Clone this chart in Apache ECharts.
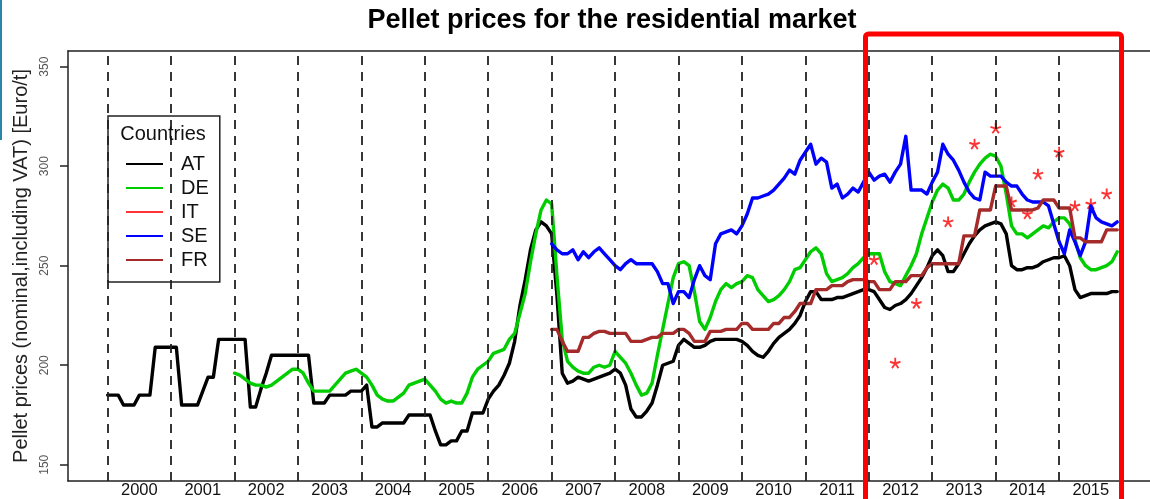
<!DOCTYPE html>
<html>
<head>
<meta charset="utf-8">
<title>Pellet prices for the residential market</title>
<script src="https://cdn.jsdelivr.net/npm/echarts@6/dist/echarts.min.js"></script>
<style>
  html, body { margin: 0; padding: 0; background: #fff; }
  #chart { width: 1150px; height: 499px; }
</style>
</head>
<body>
<div id="chart"></div>
<script>
// monthly pellet prices [Euro/t], month index 0 = Jan 2000
const countries = ['AT', 'DE', 'IT', 'SE', 'FR']
const years = [2000, 2001, 2002, 2003, 2004, 2005, 2006, 2007, 2008, 2009, 2010, 2011, 2012, 2013, 2014, 2015]
const yTicks = [150, 200, 250, 300, 350]

const atStart = 0
const atPrices = [
  185, 185, 185, 180, 180, 180, 185, 185, 185, 209, 209, 209,
  209, 209, 180, 180, 180, 180, 187, 194, 194, 213, 213, 213,
  213, 213, 213, 179, 179, 188, 196, 205, 205, 205, 205, 205,
  205, 205, 205, 181, 181, 181, 185, 185, 185, 185, 187, 187,
  187, 190, 169, 169, 171, 171, 171, 171, 171, 175, 175, 175,
  175, 175, 167, 160, 160, 162, 162, 167, 167, 176, 176, 176,
  183, 187, 190, 195, 201, 212, 230, 243, 258, 268, 272, 270,
  266, 235, 196, 191, 192, 194, 193, 192, 193, 194, 195, 196,
  198, 196, 190, 178, 174, 174, 177, 181, 190, 200, 201, 202,
  210, 213, 211, 209, 209, 210, 212, 213, 213, 213, 213, 213,
  212, 210, 207, 205, 204, 207, 211, 214, 216, 218, 221, 225,
  232, 237, 237, 233, 233, 233, 234, 234, 235, 236, 237, 238,
  238, 237, 233, 229, 228, 230, 231, 233, 236, 240, 244, 249,
  255, 258, 255, 247, 247, 251, 256, 261, 265, 268, 270, 271,
  272, 271, 266, 250, 248, 248, 249, 249, 250, 252, 253, 254,
  254, 255, 250, 238, 234, 235, 236, 236, 236, 236, 237, 237
]

const deStart = 24
const dePrices = [
  196, 195, 193, 191, 190, 190, 189, 190, 192, 194, 196, 198,
  198, 196, 191, 187, 187, 187, 187, 190, 193, 196, 197, 198,
  196, 194, 190, 185, 183, 182, 182, 184, 186, 190, 191, 192,
  193, 190, 187, 183, 181, 182, 181, 181, 186, 194, 198, 200,
  202, 206, 207, 208, 213, 216, 226, 236, 252, 266, 278, 283,
  281, 245, 213, 202, 199, 197, 196, 196, 199, 200, 199, 200,
  207, 204, 201, 196, 190, 185, 186, 191, 205, 218, 231, 244,
  251, 252, 250, 237, 222, 218, 224, 232, 238, 241, 239, 241,
  242, 245, 244, 238, 235, 232, 233, 235, 238, 242, 248, 249,
  253, 257, 259, 256, 246, 242, 243, 244, 246, 249, 251, 254,
  256, 256, 256, 247, 242, 241, 240, 245, 250, 256, 266, 274,
  282, 288, 291, 289, 283, 283, 286, 292, 297, 301, 304, 306,
  305, 300, 286, 270, 266, 266, 264, 266, 268, 270, 269, 272,
  274, 274, 271, 263, 254, 250, 248, 248, 249, 250, 252, 257
]

// IT is only known at single months
const itMonths = [145, 149, 153, 159, 164, 168, 171, 174, 176, 180, 183, 186, 189]
const itPrices = [253, 201, 231, 272, 311, 319, 282, 276, 296, 307, 280, 281, 286]

const seStart = 84
const sePrices = [
  261, 258, 256, 256, 258, 253, 257, 254, 257, 259, 256, 253,
  250, 248, 251, 253, 251, 251, 251, 251, 247, 241, 241, 231,
  237, 237, 234, 243, 250, 245, 243, 261, 266, 267, 268, 266,
  270, 276, 284, 284, 285, 286, 288, 291, 294, 298, 296, 303,
  307, 311, 301, 304, 302, 289, 291, 284, 286, 289, 287, 292,
  297, 293, 295, 296, 292, 297, 301, 315, 288, 288, 288, 286,
  292, 297, 311, 306, 303, 298, 292, 287, 284, 283, 297, 295,
  295, 295, 292, 290, 290, 286, 283, 282, 282, 282, 280, 271,
  262, 256, 268, 262, 255, 262, 280, 274, 272, 271, 270, 272
]

const frStart = 84
const frPrices = [
  218, 218, 212, 207, 207, 207, 214, 214, 216, 217, 217, 216,
  216, 216, 216, 212, 212, 212, 213, 214, 214, 216, 216, 216,
  218, 218, 216, 212, 212, 212, 217, 217, 217, 218, 218, 218,
  221, 221, 218, 218, 218, 218, 221, 221, 224, 224, 227, 231,
  231, 231, 238, 238, 238, 240, 240, 240, 242, 243, 243, 243,
  242, 242, 238, 238, 238, 242, 242, 242, 245, 245, 245, 249,
  251, 251, 251, 251, 251, 251, 265, 265, 265, 278, 278, 278,
  290, 290, 290, 278, 278, 278, 278, 278, 279, 283, 283, 283,
  279, 279, 279, 264, 264, 262, 262, 262, 262, 268, 268, 268
]

const font = 'Liberation Sans, Arial, Helvetica, sans-serif'
// five armed '*' like R's pch = "*"
const asterisk = 'path://M-1.7,0L1.7,0L1.7,-10L-1.7,-10Z' +
  'M-0.525,-1.617L0.525,1.617L10.035,-1.473L8.985,-4.707Z' +
  'M1.375,-1L-1.375,1L4.505,9.09L7.255,7.09Z' +
  'M1.375,1L-1.375,-1L-7.255,7.09L-4.505,9.09Z' +
  'M-0.525,1.617L0.525,-1.617L-8.985,-4.707L-10.035,-1.473Z'

function monthly(start, prices) {
  return prices.map((v, i) => [2000 + (start + i) / 12, v])
}

function lineSeries(name, color, start, prices, extra) {
  return Object.assign({
    name: name,
    type: 'line',
    data: monthly(start, prices),
    showSymbol: false,
    symbol: 'none',
    itemStyle: { color: color },
    lineStyle: { color: color, width: 3.4, cap: 'round', join: 'round' }
  }, extra || {})
}

const chart = echarts.init(document.getElementById('chart'))
chart.setOption({
  animation: false,
  textStyle: { fontFamily: font },
  title: [{
    text: 'Pellet prices for the residential market',
    left: 607,
    top: 2,
    textAlign: 'center',
    textStyle: { fontFamily: font, fontSize: 27, fontWeight: 'bold', color: '#000' }
  }, {
    text: 'Countries',
    left: 158,
    top: 119,
    textAlign: 'center',
    textStyle: { fontFamily: font, fontSize: 20, fontWeight: 'normal', color: '#111' }
  }],
  legend: {
    orient: 'vertical',
    left: 108,
    top: 116,
    padding: [36, 11, 10, 18],
    itemGap: 0,
    itemWidth: 37,
    itemHeight: 2,
    icon: 'rect',
    borderColor: '#222',
    borderWidth: 1.5,
    selectedMode: false,
    textStyle: { fontFamily: font, fontSize: 20, color: '#111', lineHeight: 24, padding: [0, 0, 0, 13] },
    data: countries
  },
  grid: {
    left: 68,
    top: 51,
    right: 0,
    height: 432
  },
  xAxis: [{
    type: 'value',
    min: 1999.375,
    max: 2016.433,
    axisLine: { show: true, onZero: false, lineStyle: { color: '#222', width: 1.5 } },
    axisTick: { show: false },
    splitLine: { show: false },
    axisLabel: {
      customValues: years.map(y => y + 0.5),
      formatter: v => String(Math.floor(v)),
      fontSize: 16.5,
      color: '#111',
      margin: 1
    }
  }, {
    // top frame line
    type: 'value',
    position: 'top',
    min: 1999.375,
    max: 2016.433,
    axisLine: { show: true, onZero: false, lineStyle: { color: '#222', width: 1.5 } },
    axisTick: { show: false },
    axisLabel: { show: false },
    splitLine: { show: false }
  }],
  yAxis: {
    type: 'value',
    min: 141.85,
    max: 357.85,
    name: 'Pellet prices (nominal,including VAT) [Euro/t]',
    nameLocation: 'middle',
    nameGap: 31,
    nameTextStyle: { fontFamily: font, fontSize: 20, color: '#222' },
    axisLine: { show: true, onZero: false, lineStyle: { color: '#222', width: 1.5 } },
    axisTick: { show: true, customValues: yTicks, length: 8, lineStyle: { color: '#222', width: 1.5 } },
    axisLabel: { customValues: yTicks, rotate: 90, fontSize: 12, color: '#555', margin: 17 },
    splitLine: { show: false }
  },
  series: [
    lineSeries('AT', '#000000', atStart, atPrices, {
      markLine: {
        silent: true,
        symbol: ['none', 'none'],
        label: { show: false },
        lineStyle: { color: '#222', type: [9, 7], width: 1.8 },
        data: years.map(y => ({ xAxis: y }))
      }
    }),
    lineSeries('DE', '#00cd00', deStart, dePrices),
    {
      name: 'IT',
      type: 'scatter',
      data: itMonths.map((m, i) => [2000 + m / 12, itPrices[i]]),
      symbol: asterisk,
      symbolSize: 11,
      itemStyle: { color: '#ff0000' }
    },
    lineSeries('SE', '#0000ff', seStart, sePrices),
    lineSeries('FR', '#a52a2a', frStart, frPrices)
  ],
  graphic: [{
    type: 'rect',
    shape: { x: 0, y: 0, width: 2, height: 140 },
    style: { fill: '#2a86a8' }
  }, {
    type: 'rect',
    z: 100,
    shape: { x: 865.5, y: 34, width: 256, height: 480, r: 3 },
    style: { fill: 'none', stroke: '#ff0000', lineWidth: 5 }
  }]
})
</script>
</body>
</html>
